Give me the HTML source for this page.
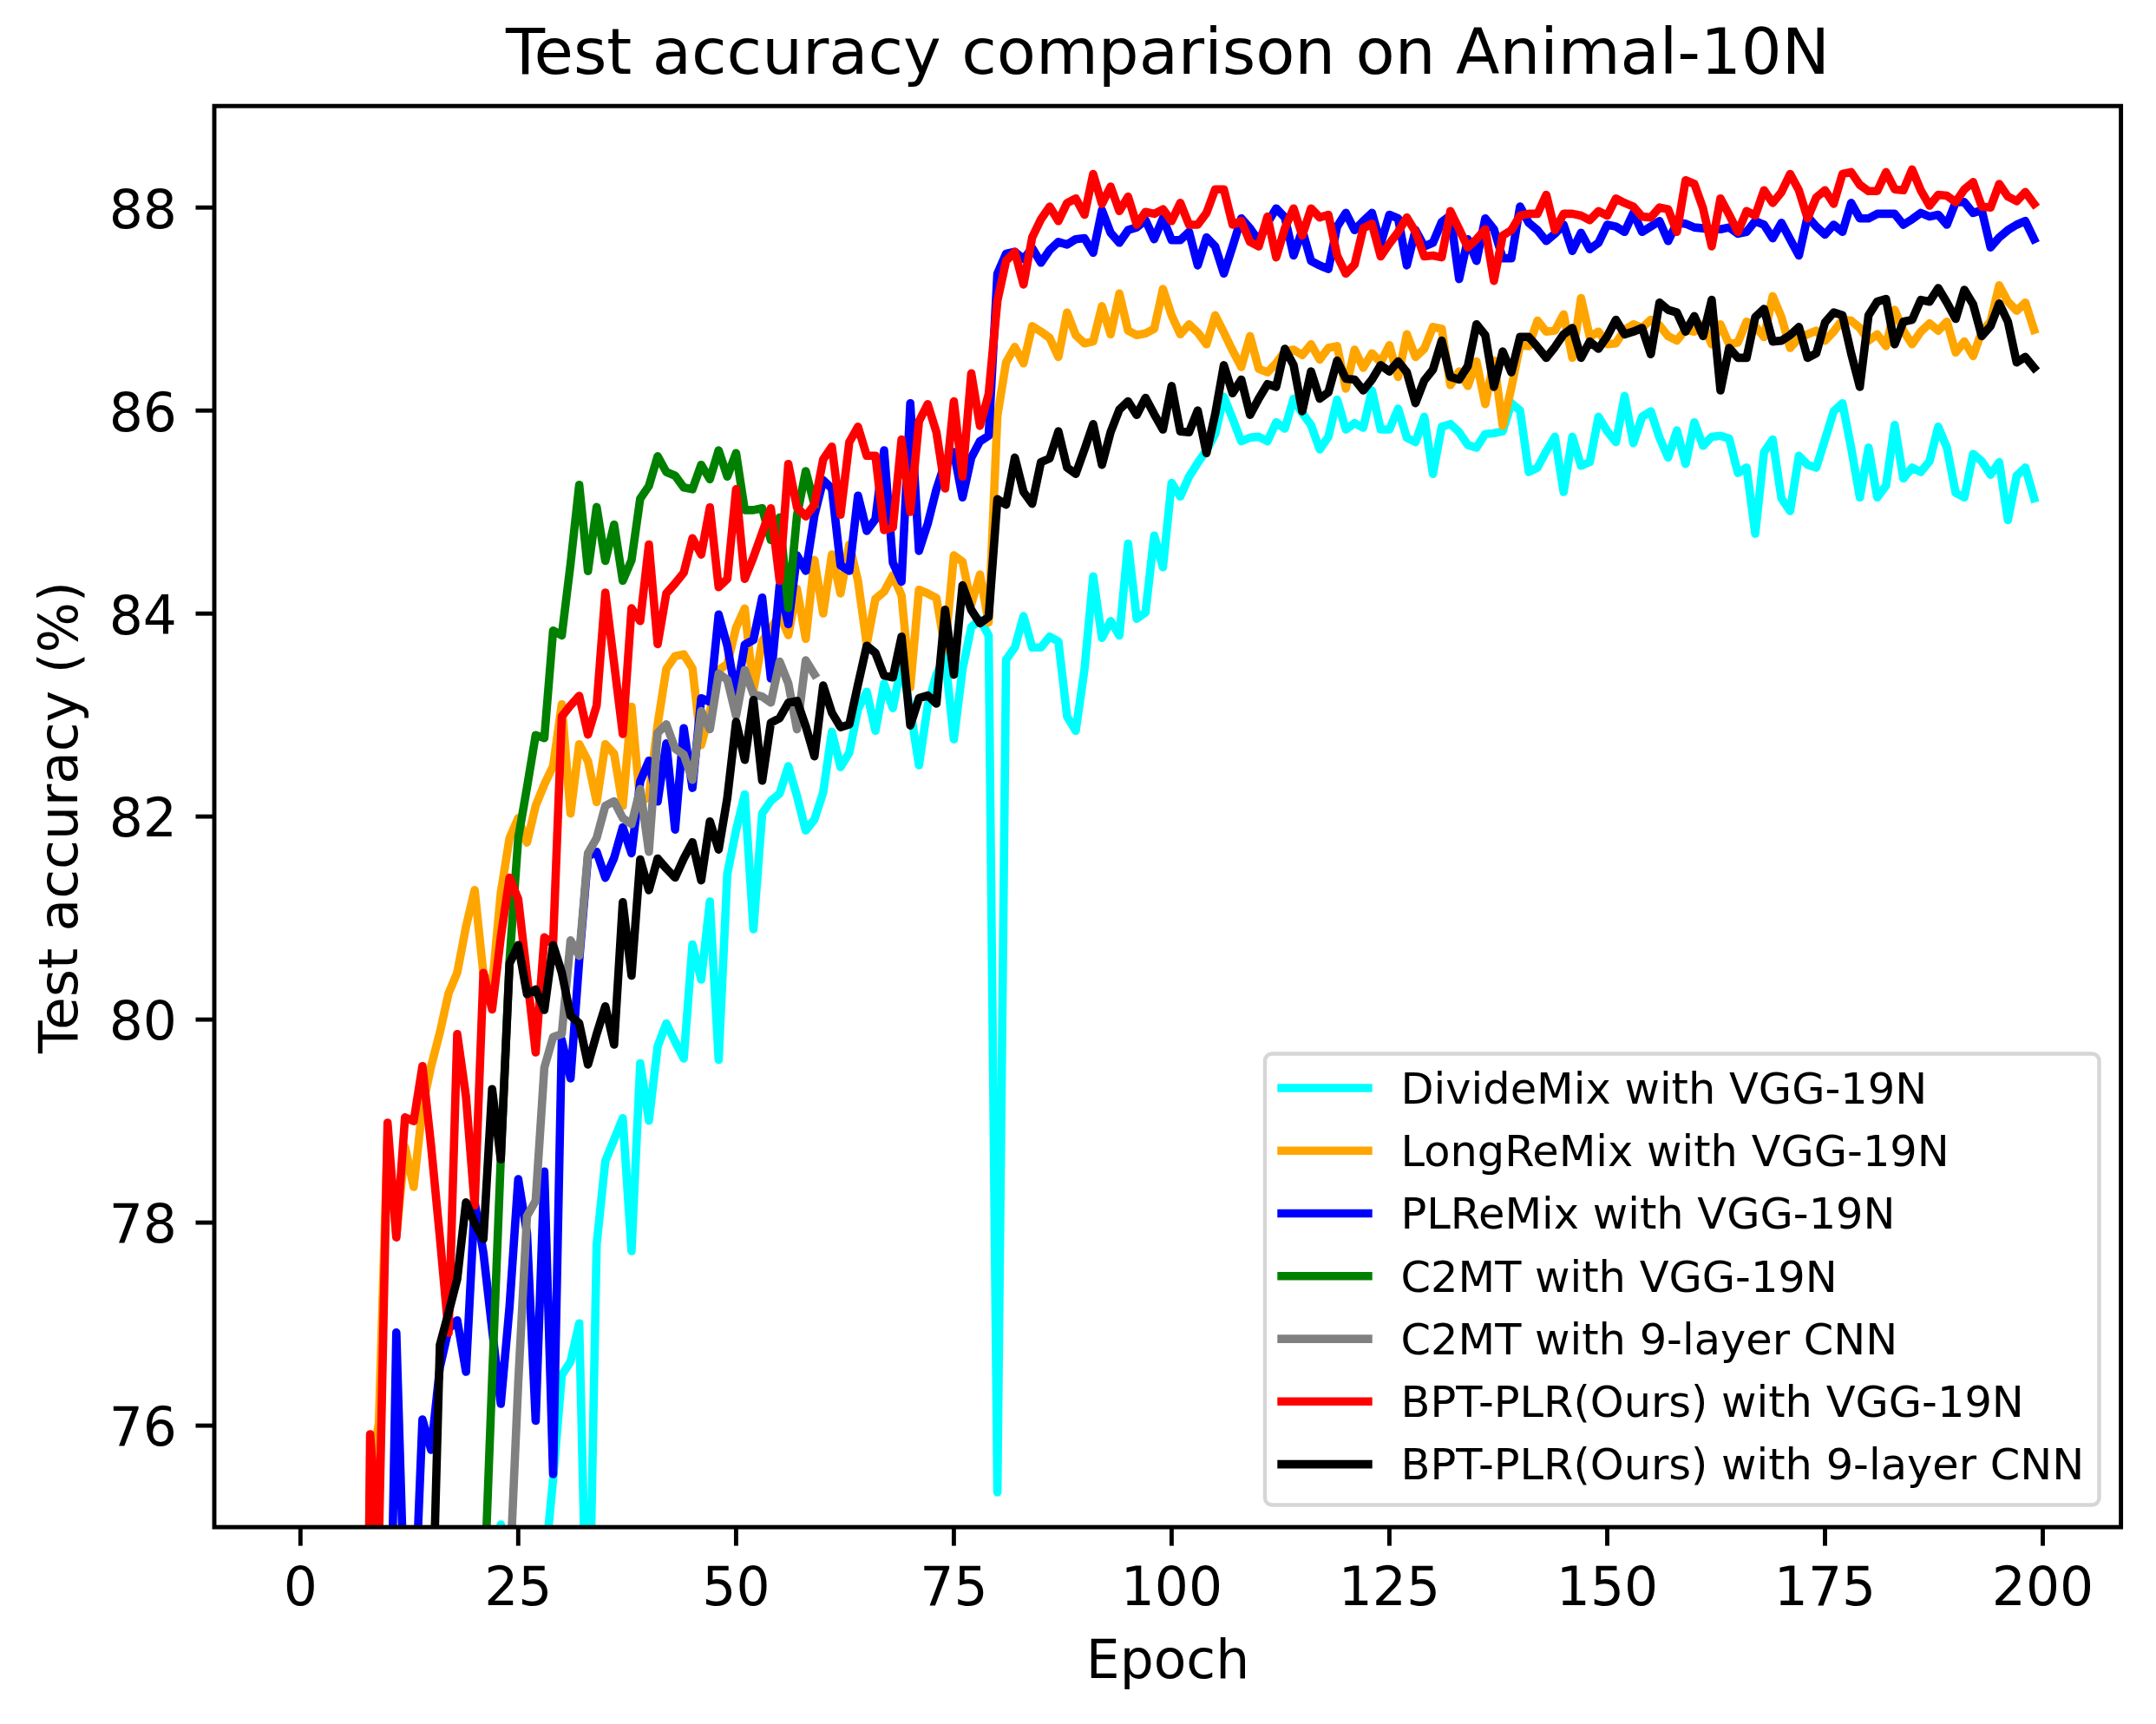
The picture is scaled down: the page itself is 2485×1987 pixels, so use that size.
<!DOCTYPE html>
<html><head><meta charset="utf-8"><title>Test accuracy comparison on Animal-10N</title>
<style>
html,body{margin:0;padding:0;background:#fff;}
svg{display:block}
text{font-family:"DejaVu Sans", "Liberation Sans", sans-serif;fill:#000}
.ln{fill:none;stroke-width:9.6;stroke-linejoin:round;stroke-linecap:square}
</style></head><body>
<svg width="2485" height="1987" viewBox="0 0 2485 1987">
<rect x="0" y="0" width="2485" height="1987" fill="#fff"/>
<defs><clipPath id="ax"><rect x="247.0" y="122.2" width="2197.6" height="1637.8999999999999"/></clipPath></defs>

<g clip-path="url(#ax)">
<polyline class="ln" stroke="#00ffff" points="557.2,2100.0 567.2,1900.0 577.2,1757.0 587.3,1900.0 597.3,2000.0 607.4,2000.0 617.4,1950.0 627.4,1810.0 637.5,1705.0 647.5,1585.0 657.6,1569.3 667.6,1525.2 677.7,1960.0 687.7,1434.0 697.7,1338.1 707.8,1313.4 717.8,1288.7 727.9,1442.0 737.9,1225.5 747.9,1291.6 758.0,1206.0 768.0,1179.5 778.1,1200.5 788.1,1220.0 798.1,1088.5 808.2,1129.0 818.2,1039.0 828.3,1221.5 838.3,1007.0 848.4,957.0 858.4,915.7 868.4,1071.0 878.5,937.4 888.5,923.0 898.6,914.6 908.6,883.0 918.6,917.5 928.7,957.2 938.7,944.6 948.8,913.3 958.8,843.4 968.8,884.1 978.9,867.4 988.9,817.3 999.0,797.4 1009.0,842.3 1019.0,788.0 1029.1,816.2 1039.1,765.1 1049.2,817.3 1059.2,882.0 1069.3,813.1 1079.3,777.6 1089.3,756.7 1099.4,852.1 1109.4,771.4 1119.5,722.6 1129.5,714.3 1139.5,732.4 1149.6,1720.0 1159.6,760.2 1169.7,746.3 1179.7,710.1 1189.7,746.3 1199.8,746.3 1209.8,733.8 1219.9,739.4 1229.9,825.7 1239.9,842.4 1250.0,771.4 1260.0,664.2 1270.1,735.2 1280.1,715.7 1290.2,732.4 1300.2,626.6 1310.2,713.2 1320.3,705.9 1330.3,617.2 1340.4,653.7 1350.4,556.6 1360.4,572.3 1370.5,549.3 1380.5,533.6 1390.6,519.0 1400.6,500.2 1410.6,457.4 1420.7,482.5 1430.7,508.6 1440.8,504.4 1450.8,503.4 1460.9,508.6 1470.9,486.7 1480.9,494.0 1491.0,459.5 1501.0,476.2 1511.1,489.8 1521.1,518.0 1531.1,503.4 1541.2,460.6 1551.2,495.0 1561.3,487.7 1571.3,492.9 1581.3,450.1 1591.4,495.0 1601.4,495.0 1611.5,471.0 1621.5,504.4 1631.5,509.6 1641.6,480.4 1651.6,546.2 1661.7,491.9 1671.7,488.7 1681.8,498.1 1691.8,512.8 1701.8,515.9 1711.9,500.2 1721.9,499.2 1732.0,497.1 1742.0,464.7 1752.0,473.1 1762.1,544.1 1772.1,538.9 1782.2,520.1 1792.2,503.4 1802.2,567.0 1812.3,503.4 1822.3,536.8 1832.4,532.6 1842.4,480.4 1852.5,497.1 1862.5,509.6 1872.5,456.4 1882.6,510.7 1892.6,480.4 1902.7,474.1 1912.7,504.4 1922.7,527.4 1932.8,496.1 1942.8,534.7 1952.9,486.7 1962.9,513.8 1972.9,503.4 1983.0,502.3 1993.0,505.4 2003.1,545.1 2013.1,538.9 2023.1,615.1 2033.2,521.1 2043.2,506.5 2053.3,574.4 2063.3,589.0 2073.4,525.3 2083.4,535.7 2093.4,538.9 2103.5,506.5 2113.5,474.1 2123.6,464.7 2133.6,515.9 2143.6,573.3 2153.7,515.9 2163.7,573.3 2173.8,559.7 2183.8,489.8 2193.8,551.4 2203.9,538.9 2213.9,544.1 2224.0,531.6 2234.0,491.9 2244.0,515.9 2254.1,568.1 2264.1,573.3 2274.2,523.2 2284.2,531.6 2294.3,547.2 2304.3,532.6 2314.3,599.4 2324.4,548.3 2334.4,538.9 2344.5,574.4"/>
<polyline class="ln" stroke="#ffa500" points="406.5,2700.0 416.6,2650.0 426.6,1700.0 436.7,1640.0 446.7,1310.0 456.8,1425.0 466.8,1322.0 476.8,1368.0 486.9,1276.0 496.9,1229.0 507.0,1190.0 517.0,1145.0 527.0,1121.0 537.1,1068.1 547.1,1025.8 557.2,1122.7 567.2,1136.8 577.2,1029.3 587.3,965.8 597.3,942.9 607.4,971.1 617.4,928.8 627.4,904.1 637.5,882.9 647.5,811.7 657.6,937.6 667.6,857.7 677.7,877.2 687.7,924.4 697.7,857.7 707.8,868.8 717.8,928.8 727.9,814.5 737.9,925.0 747.9,918.0 758.0,834.9 768.0,770.9 778.1,756.2 788.1,754.2 798.1,770.2 808.2,858.6 818.2,821.0 828.3,772.3 838.3,765.3 848.4,723.5 858.4,701.3 868.4,795.9 878.5,738.8 888.5,724.9 898.6,708.0 908.6,732.0 918.6,678.8 928.7,736.2 938.7,645.4 948.8,707.0 958.8,639.1 968.8,684.0 978.9,627.6 988.9,669.4 999.0,742.5 1009.0,690.2 1019.0,681.9 1029.1,663.1 1039.1,686.1 1049.2,792.0 1059.2,679.8 1069.3,684.0 1079.3,689.2 1089.3,748.0 1099.4,640.1 1109.4,647.4 1119.5,696.5 1129.5,662.1 1139.5,717.4 1149.6,479.3 1159.6,417.7 1169.7,399.9 1179.7,418.7 1189.7,375.9 1199.8,382.2 1209.8,389.5 1219.9,411.4 1229.9,360.2 1239.9,386.3 1250.0,395.7 1260.0,393.6 1270.1,352.9 1280.1,385.3 1290.2,338.3 1300.2,381.1 1310.2,386.3 1320.3,384.3 1330.3,379.0 1340.4,333.1 1350.4,363.4 1360.4,385.3 1370.5,373.8 1380.5,383.2 1390.6,396.8 1400.6,363.4 1410.6,383.2 1420.7,404.1 1430.7,422.9 1440.8,387.4 1450.8,425.0 1460.9,429.1 1470.9,418.7 1480.9,405.1 1491.0,403.0 1501.0,409.3 1511.1,396.8 1521.1,414.5 1531.1,401.0 1541.2,398.9 1551.2,447.9 1561.3,403.0 1571.3,423.9 1581.3,407.2 1591.4,417.7 1601.4,397.8 1611.5,434.4 1621.5,385.3 1631.5,411.4 1641.6,402.0 1651.6,376.9 1661.7,379.0 1671.7,443.8 1681.8,428.1 1691.8,444.8 1701.8,416.6 1711.9,465.7 1721.9,415.6 1732.0,490.7 1742.0,446.9 1752.0,397.8 1762.1,398.9 1772.1,369.6 1782.2,382.2 1792.2,381.1 1802.2,362.3 1812.3,412.4 1822.3,343.5 1832.4,388.4 1842.4,382.2 1852.5,396.8 1862.5,395.7 1872.5,380.1 1882.6,373.8 1892.6,378.0 1902.7,368.6 1912.7,374.9 1922.7,387.4 1932.8,392.6 1942.8,380.1 1952.9,382.2 1962.9,373.8 1972.9,396.8 1983.0,373.8 1993.0,396.8 2003.1,394.7 2013.1,370.7 2023.1,375.9 2033.2,388.4 2043.2,341.4 2053.3,365.5 2063.3,401.0 2073.4,389.5 2083.4,385.3 2093.4,381.1 2103.5,392.6 2113.5,382.2 2123.6,368.6 2133.6,369.6 2143.6,378.0 2153.7,392.6 2163.7,385.3 2173.8,398.9 2183.8,357.1 2193.8,381.1 2203.9,396.8 2213.9,382.2 2224.0,372.8 2234.0,381.1 2244.0,370.7 2254.1,406.2 2264.1,393.6 2274.2,410.4 2284.2,382.2 2294.3,370.7 2304.3,328.9 2314.3,347.7 2324.4,358.2 2334.4,348.8 2344.5,380.1"/>
<polyline class="ln" stroke="#0000ff" points="436.7,2300.0 446.7,2100.0 456.8,1535.8 466.8,1871.0 476.8,1886.0 486.9,1636.0 496.9,1671.0 507.0,1576.0 517.0,1532.0 527.0,1521.7 537.1,1581.0 547.1,1385.7 557.2,1444.0 567.2,1532.0 577.2,1618.0 587.3,1505.8 597.3,1359.0 607.4,1421.0 617.4,1637.5 627.4,1350.4 637.5,1699.0 647.5,1198.8 657.6,1242.9 667.6,1106.9 677.7,987.0 687.7,981.7 697.7,1011.6 707.8,988.7 717.8,953.5 727.9,983.4 737.9,900.6 747.9,876.8 758.0,923.8 768.0,856.9 778.1,956.1 788.1,839.2 798.1,908.1 808.2,804.7 818.2,808.9 828.3,708.2 838.3,744.4 848.4,801.5 858.4,743.0 868.4,737.5 878.5,688.7 888.5,782.0 898.6,674.8 908.6,719.4 918.6,640.1 928.7,657.9 938.7,594.2 948.8,553.5 958.8,562.9 968.8,651.6 978.9,657.9 988.9,571.2 999.0,611.9 1009.0,598.4 1019.0,519.0 1029.1,648.5 1039.1,670.4 1049.2,464.7 1059.2,634.9 1069.3,603.6 1079.3,563.9 1089.3,533.6 1099.4,521.1 1109.4,573.3 1119.5,527.4 1129.5,508.6 1139.5,502.3 1149.6,315.3 1159.6,292.4 1169.7,290.3 1179.7,298.6 1189.7,286.1 1199.8,302.8 1209.8,288.2 1219.9,278.8 1229.9,281.9 1239.9,275.7 1250.0,274.6 1260.0,291.3 1270.1,242.3 1280.1,268.4 1290.2,279.8 1300.2,265.2 1310.2,262.1 1320.3,253.7 1330.3,275.7 1340.4,251.7 1350.4,276.7 1360.4,276.7 1370.5,267.3 1380.5,305.9 1390.6,273.6 1400.6,284.0 1410.6,315.3 1420.7,284.0 1430.7,251.7 1440.8,263.1 1450.8,277.8 1460.9,256.9 1470.9,240.2 1480.9,250.6 1491.0,294.5 1501.0,265.2 1511.1,300.7 1521.1,305.9 1531.1,310.1 1541.2,261.1 1551.2,245.4 1561.3,265.2 1571.3,254.8 1581.3,245.4 1591.4,280.9 1601.4,247.5 1611.5,251.7 1621.5,305.9 1631.5,265.2 1641.6,284.0 1651.6,279.8 1661.7,255.8 1671.7,248.5 1681.8,321.6 1691.8,275.7 1701.8,300.7 1711.9,251.7 1721.9,264.2 1732.0,297.6 1742.0,297.6 1752.0,238.1 1762.1,256.9 1772.1,265.2 1782.2,277.8 1792.2,269.4 1802.2,259.0 1812.3,289.2 1822.3,268.4 1832.4,287.2 1842.4,279.8 1852.5,259.0 1862.5,261.1 1872.5,267.3 1882.6,245.4 1892.6,267.3 1902.7,261.1 1912.7,254.8 1922.7,277.8 1932.8,256.9 1942.8,257.9 1952.9,262.1 1962.9,263.1 1972.9,264.2 1983.0,264.2 1993.0,262.1 2003.1,269.4 2013.1,267.3 2023.1,254.8 2033.2,259.0 2043.2,274.6 2053.3,256.9 2063.3,275.7 2073.4,294.5 2083.4,249.6 2093.4,261.1 2103.5,270.4 2113.5,259.0 2123.6,267.3 2133.6,233.9 2143.6,251.7 2153.7,251.7 2163.7,246.4 2173.8,246.4 2183.8,246.4 2193.8,259.0 2203.9,252.7 2213.9,245.4 2224.0,249.6 2234.0,247.5 2244.0,259.0 2254.1,232.9 2264.1,232.9 2274.2,245.4 2284.2,242.3 2294.3,285.1 2304.3,273.6 2314.3,265.2 2324.4,259.0 2334.4,254.8 2344.5,275.7"/>
<polyline class="ln" stroke="#008000" points="537.1,2500.0 547.1,2200.0 557.2,1856.0 567.2,1590.0 577.2,1335.0 587.3,1107.0 597.3,966.0 607.4,907.6 617.4,847.2 627.4,850.7 637.5,726.8 647.5,732.4 657.6,650.0 667.6,558.7 677.7,658.2 687.7,584.4 697.7,646.4 707.8,604.6 717.8,669.3 727.9,645.7 737.9,574.7 747.9,560.1 758.0,525.9 768.0,544.0 778.1,548.2 788.1,561.8 798.1,563.9 808.2,535.7 818.2,552.4 828.3,519.0 838.3,549.3 848.4,522.2 858.4,587.9 868.4,587.9 878.5,585.8 888.5,622.4 898.6,596.3 908.6,700.7 918.6,594.2 928.7,543.0 938.7,581.7"/>
<polyline class="ln" stroke="#808080" points="567.2,2300.0 577.2,2050.0 587.3,1821.0 597.3,1594.0 607.4,1401.5 617.4,1383.9 627.4,1230.5 637.5,1195.2 647.5,1191.7 657.6,1083.9 667.6,1101.6 677.7,983.4 687.7,965.8 697.7,928.8 707.8,923.5 717.8,942.9 727.9,949.9 737.9,909.4 747.9,981.7 758.0,844.6 768.0,834.9 778.1,862.7 788.1,869.7 798.1,898.7 808.2,819.6 818.2,840.5 828.3,776.4 838.3,783.4 848.4,825.2 858.4,772.3 868.4,800.1 878.5,802.9 888.5,809.8 898.6,762.5 908.6,787.6 918.6,840.5 928.7,761.1 938.7,777.1"/>
<polyline class="ln" stroke="#ff0000" points="406.5,2700.0 416.6,2630.0 426.6,1653.0 436.7,1780.0 446.7,1294.0 456.8,1426.2 466.8,1287.8 476.8,1292.2 486.9,1228.7 496.9,1321.1 507.0,1426.0 517.0,1536.0 527.0,1191.7 537.1,1264.0 547.1,1389.2 557.2,1121.2 567.2,1163.5 577.2,1080.4 587.3,1011.6 597.3,1036.3 607.4,1124.5 617.4,1212.9 627.4,1080.4 637.5,1087.5 647.5,825.7 657.6,813.1 667.6,802.0 677.7,846.6 687.7,813.1 697.7,683.0 707.8,764.4 717.8,845.9 727.9,701.1 737.9,715.7 747.9,627.6 758.0,742.4 768.0,684.0 778.1,672.5 788.1,660.0 798.1,620.3 808.2,639.1 818.2,584.8 828.3,676.7 838.3,667.3 848.4,563.9 858.4,667.3 868.4,642.2 878.5,614.0 888.5,585.8 898.6,669.4 908.6,534.7 918.6,584.8 928.7,595.2 938.7,581.7 948.8,529.5 958.8,514.8 968.8,593.2 978.9,509.6 988.9,491.9 999.0,525.3 1009.0,525.3 1019.0,610.9 1029.1,607.8 1039.1,506.5 1049.2,590.0 1059.2,485.6 1069.3,465.8 1079.3,498.1 1089.3,562.9 1099.4,462.6 1109.4,549.3 1119.5,430.3 1129.5,490.8 1139.5,454.3 1149.6,346.7 1159.6,300.7 1169.7,290.3 1179.7,327.9 1189.7,273.6 1199.8,252.7 1209.8,238.1 1219.9,254.8 1229.9,233.9 1239.9,228.7 1250.0,247.5 1260.0,200.5 1270.1,235.0 1280.1,215.1 1290.2,243.3 1300.2,226.6 1310.2,259.0 1320.3,244.3 1330.3,246.4 1340.4,241.2 1350.4,254.8 1360.4,233.9 1370.5,259.0 1380.5,259.0 1390.6,245.4 1400.6,218.2 1410.6,218.2 1420.7,259.0 1430.7,254.8 1440.8,278.8 1450.8,284.0 1460.9,249.6 1470.9,296.6 1480.9,263.1 1491.0,240.2 1501.0,271.5 1511.1,240.2 1521.1,250.6 1531.1,247.5 1541.2,294.5 1551.2,315.3 1561.3,304.9 1571.3,263.1 1581.3,257.9 1591.4,295.5 1601.4,280.9 1611.5,267.3 1621.5,250.6 1631.5,267.3 1641.6,295.5 1651.6,294.5 1661.7,296.6 1671.7,243.3 1681.8,264.2 1691.8,285.1 1701.8,275.7 1711.9,264.2 1721.9,323.7 1732.0,271.5 1742.0,265.2 1752.0,248.5 1762.1,246.4 1772.1,246.4 1782.2,224.5 1792.2,265.2 1802.2,246.4 1812.3,246.4 1822.3,248.5 1832.4,253.7 1842.4,243.3 1852.5,248.5 1862.5,228.7 1872.5,233.9 1882.6,238.1 1892.6,249.6 1902.7,250.6 1912.7,239.1 1922.7,241.2 1932.8,267.3 1942.8,207.8 1952.9,212.0 1962.9,240.2 1972.9,284.0 1983.0,228.7 1993.0,247.5 2003.1,267.3 2013.1,243.3 2023.1,248.5 2033.2,219.3 2043.2,233.9 2053.3,221.4 2063.3,200.5 2073.4,219.3 2083.4,251.7 2093.4,227.6 2103.5,219.3 2113.5,235.0 2123.6,200.5 2133.6,198.4 2143.6,213.0 2153.7,220.3 2163.7,220.3 2173.8,198.4 2183.8,218.2 2193.8,219.3 2203.9,195.3 2213.9,219.3 2224.0,237.0 2234.0,224.5 2244.0,225.6 2254.1,232.9 2264.1,218.2 2274.2,209.9 2284.2,238.1 2294.3,239.1 2304.3,212.0 2314.3,226.6 2324.4,231.8 2334.4,221.4 2344.5,235.0"/>
<polyline class="ln" stroke="#000000" points="486.9,2300.0 496.9,1922.0 507.0,1550.0 517.0,1512.9 527.0,1474.0 537.1,1385.7 547.1,1410.0 557.2,1428.0 567.2,1255.2 577.2,1336.3 587.3,1110.4 597.3,1089.2 607.4,1145.7 617.4,1140.4 627.4,1164.0 637.5,1089.2 647.5,1121.0 657.6,1170.6 667.6,1179.4 677.7,1227.0 687.7,1191.7 697.7,1159.8 707.8,1204.0 717.8,1039.9 727.9,1124.5 737.9,990.6 747.9,1026.0 758.0,989.5 768.0,1001.0 778.1,1011.5 788.1,989.5 798.1,970.7 808.2,1014.6 818.2,946.7 828.3,979.1 838.3,919.6 848.4,831.9 858.4,875.7 868.4,806.8 878.5,899.7 888.5,832.9 898.6,827.7 908.6,810.0 918.6,807.9 928.7,837.1 938.7,871.6 948.8,790.1 958.8,821.4 968.8,838.1 978.9,835.0 988.9,789.1 999.0,744.2 1009.0,752.5 1019.0,778.6 1029.1,780.7 1039.1,733.7 1049.2,836.1 1059.2,804.7 1069.3,801.6 1079.3,811.0 1089.3,702.8 1099.4,777.6 1109.4,674.6 1119.5,702.8 1129.5,718.4 1139.5,711.1 1149.6,575.4 1159.6,581.7 1169.7,527.4 1179.7,567.0 1189.7,580.6 1199.8,532.6 1209.8,528.4 1219.9,497.1 1229.9,538.9 1239.9,546.2 1250.0,518.0 1260.0,488.7 1270.1,535.7 1280.1,498.1 1290.2,472.0 1300.2,462.6 1310.2,478.3 1320.3,458.5 1330.3,477.3 1340.4,495.0 1350.4,444.9 1360.4,497.1 1370.5,498.1 1380.5,473.1 1390.6,522.2 1400.6,477.3 1410.6,420.9 1420.7,453.2 1430.7,437.5 1440.8,478.2 1450.8,459.4 1460.9,442.7 1470.9,445.9 1480.9,402.0 1491.0,420.8 1501.0,474.0 1511.1,428.1 1521.1,459.4 1531.1,452.1 1541.2,415.6 1551.2,436.5 1561.3,437.5 1571.3,450.0 1581.3,437.5 1591.4,420.8 1601.4,428.1 1611.5,416.6 1621.5,429.1 1631.5,464.6 1641.6,438.5 1651.6,426.0 1661.7,392.6 1671.7,434.4 1681.8,437.5 1691.8,421.8 1701.8,373.8 1711.9,386.3 1721.9,445.9 1732.0,405.1 1742.0,429.1 1752.0,388.4 1762.1,388.4 1772.1,399.9 1782.2,412.4 1792.2,399.9 1802.2,385.3 1812.3,378.0 1822.3,412.4 1832.4,393.6 1842.4,402.0 1852.5,387.4 1862.5,368.6 1872.5,385.3 1882.6,382.2 1892.6,378.0 1902.7,408.3 1912.7,348.8 1922.7,357.1 1932.8,360.2 1942.8,382.2 1952.9,364.4 1962.9,387.4 1972.9,345.6 1983.0,450.0 1993.0,401.0 2003.1,412.4 2013.1,412.4 2023.1,365.5 2033.2,356.1 2043.2,393.6 2053.3,392.6 2063.3,386.3 2073.4,376.9 2083.4,412.4 2093.4,407.2 2103.5,371.7 2113.5,360.2 2123.6,363.4 2133.6,407.2 2143.6,445.9 2153.7,363.4 2163.7,347.7 2173.8,344.6 2183.8,396.8 2193.8,370.7 2203.9,368.6 2213.9,345.6 2224.0,347.7 2234.0,332.0 2244.0,348.8 2254.1,367.5 2264.1,334.1 2274.2,350.8 2284.2,387.4 2294.3,375.9 2304.3,349.8 2314.3,370.7 2324.4,417.7 2334.4,411.4 2344.5,423.9"/>
</g>
<rect x="247.0" y="122.2" width="2197.6" height="1637.8999999999999" fill="none" stroke="#000" stroke-width="4.9" stroke-linejoin="miter"/>
<line x1="346.3" y1="1760.1" x2="346.3" y2="1781.6" stroke="#000" stroke-width="4.9"/>
<text x="346.3" y="1849.5" font-size="61.5" text-anchor="middle">0</text>
<line x1="597.3" y1="1760.1" x2="597.3" y2="1781.6" stroke="#000" stroke-width="4.9"/>
<text x="597.3" y="1849.5" font-size="61.5" text-anchor="middle">25</text>
<line x1="848.4" y1="1760.1" x2="848.4" y2="1781.6" stroke="#000" stroke-width="4.9"/>
<text x="848.4" y="1849.5" font-size="61.5" text-anchor="middle">50</text>
<line x1="1099.4" y1="1760.1" x2="1099.4" y2="1781.6" stroke="#000" stroke-width="4.9"/>
<text x="1099.4" y="1849.5" font-size="61.5" text-anchor="middle">75</text>
<line x1="1350.4" y1="1760.1" x2="1350.4" y2="1781.6" stroke="#000" stroke-width="4.9"/>
<text x="1350.4" y="1849.5" font-size="61.5" text-anchor="middle">100</text>
<line x1="1601.4" y1="1760.1" x2="1601.4" y2="1781.6" stroke="#000" stroke-width="4.9"/>
<text x="1601.4" y="1849.5" font-size="61.5" text-anchor="middle">125</text>
<line x1="1852.5" y1="1760.1" x2="1852.5" y2="1781.6" stroke="#000" stroke-width="4.9"/>
<text x="1852.5" y="1849.5" font-size="61.5" text-anchor="middle">150</text>
<line x1="2103.5" y1="1760.1" x2="2103.5" y2="1781.6" stroke="#000" stroke-width="4.9"/>
<text x="2103.5" y="1849.5" font-size="61.5" text-anchor="middle">175</text>
<line x1="2354.5" y1="1760.1" x2="2354.5" y2="1781.6" stroke="#000" stroke-width="4.9"/>
<text x="2354.5" y="1849.5" font-size="61.5" text-anchor="middle">200</text>
<line x1="247.0" y1="1643.1" x2="225.5" y2="1643.1" stroke="#000" stroke-width="4.9"/>
<text x="204.0" y="1666.4" font-size="61.5" text-anchor="end">76</text>
<line x1="247.0" y1="1409.1" x2="225.5" y2="1409.1" stroke="#000" stroke-width="4.9"/>
<text x="204.0" y="1432.4" font-size="61.5" text-anchor="end">78</text>
<line x1="247.0" y1="1175.1" x2="225.5" y2="1175.1" stroke="#000" stroke-width="4.9"/>
<text x="204.0" y="1198.4" font-size="61.5" text-anchor="end">80</text>
<line x1="247.0" y1="941.1" x2="225.5" y2="941.1" stroke="#000" stroke-width="4.9"/>
<text x="204.0" y="964.4" font-size="61.5" text-anchor="end">82</text>
<line x1="247.0" y1="707.2" x2="225.5" y2="707.2" stroke="#000" stroke-width="4.9"/>
<text x="204.0" y="730.5" font-size="61.5" text-anchor="end">84</text>
<line x1="247.0" y1="473.2" x2="225.5" y2="473.2" stroke="#000" stroke-width="4.9"/>
<text x="204.0" y="496.5" font-size="61.5" text-anchor="end">86</text>
<line x1="247.0" y1="239.2" x2="225.5" y2="239.2" stroke="#000" stroke-width="4.9"/>
<text x="204.0" y="262.5" font-size="61.5" text-anchor="end">88</text>
<text x="1346" y="85.3" font-size="73.8" text-anchor="middle">Test accuracy comparison on Animal-10N</text>
<text x="1346" y="1934.4" font-size="61.5" text-anchor="middle">Epoch</text>
<text transform="translate(88.5,942) rotate(-90)" font-size="61.5" text-anchor="middle">Test accuracy (%)</text>
<rect x="1458.0" y="1214.5" width="961.5" height="520.0" rx="8" ry="8" fill="#fff" fill-opacity="0.8" stroke="#ccc" stroke-opacity="0.8" stroke-width="4.4"/>
<line x1="1472.3" y1="1254.0" x2="1581.7" y2="1254.0" stroke="#00ffff" stroke-width="9.6"/>
<text x="1614.5" y="1271.7" font-size="49.45">DivideMix with VGG-19N</text>
<line x1="1472.3" y1="1326.3" x2="1581.7" y2="1326.3" stroke="#ffa500" stroke-width="9.6"/>
<text x="1614.5" y="1344.0" font-size="49.45">LongReMix with VGG-19N</text>
<line x1="1472.3" y1="1398.5" x2="1581.7" y2="1398.5" stroke="#0000ff" stroke-width="9.6"/>
<text x="1614.5" y="1416.2" font-size="49.45">PLReMix with VGG-19N</text>
<line x1="1472.3" y1="1470.8" x2="1581.7" y2="1470.8" stroke="#008000" stroke-width="9.6"/>
<text x="1614.5" y="1488.5" font-size="49.45">C2MT with VGG-19N</text>
<line x1="1472.3" y1="1543.1" x2="1581.7" y2="1543.1" stroke="#808080" stroke-width="9.6"/>
<text x="1614.5" y="1560.8" font-size="49.45">C2MT with 9-layer CNN</text>
<line x1="1472.3" y1="1615.3" x2="1581.7" y2="1615.3" stroke="#ff0000" stroke-width="9.6"/>
<text x="1614.5" y="1633.0" font-size="49.45">BPT-PLR(Ours) with VGG-19N</text>
<line x1="1472.3" y1="1687.6" x2="1581.7" y2="1687.6" stroke="#000000" stroke-width="9.6"/>
<text x="1614.5" y="1705.3" font-size="49.45">BPT-PLR(Ours) with 9-layer CNN</text>
</svg></body></html>
